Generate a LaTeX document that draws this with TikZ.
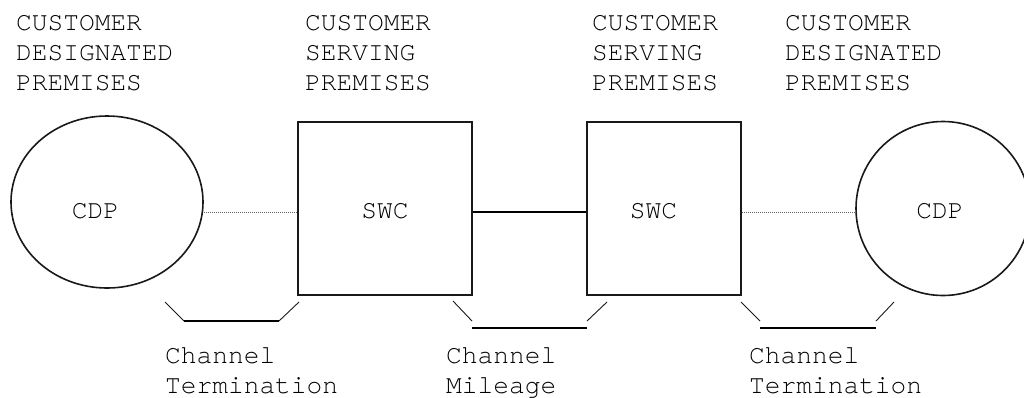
\documentclass[tikz,border=0pt]{standalone}
\usepackage{fontspec}
\setmonofont{TeX Gyre Cursor}
\usetikzlibrary{shapes.geometric}
\tikzset{
  lbl/.style={inner sep=0pt, anchor=base west, align=left, font=\ttfamily\fontsize{26.2}{30}\selectfont, text=black},
  inlbl/.style={inner sep=0pt, anchor=base, font=\ttfamily\fontsize{26.2}{30}\selectfont, text=black},
  shp/.style={draw=black!90, line width=1.6pt, inner sep=0pt},
  dotline/.style={draw=black!60, line width=1pt, densely dotted},
  solidline/.style={draw=black, line width=1.8pt},
  thinstroke/.style={draw=black!90, line width=0.9pt},
  thickstroke/.style={draw=black, line width=2.4pt}
}
\begin{document}
\begin{tikzpicture}[x=1pt,y=-1pt]
\useasboundingbox (0,0) rectangle (1024,397);
% shapes
\node[shp, ellipse, minimum width=192pt, minimum height=172pt] (cdpL) at (107,202) {};
\node[shp, rectangle, minimum width=174pt, minimum height=173pt] (swcL) at (385,208.5) {};
\node[shp, rectangle, minimum width=154pt, minimum height=173pt] (swcR) at (664,208.5) {};
\node[shp, circle, minimum size=174pt] (cdpR) at (943,208.5) {};
% inner labels
\node[inlbl] (tCdpL) at (95.5,218) {CDP};
\node[inlbl] (tSwcL) at (385,218) {SWC};
\node[inlbl] (tSwcR) at (653.5,218) {SWC};
\node[inlbl] (tCdpR) at (940,218) {CDP};
% connectors
\draw[dotline] ([yshift=-3.5pt]swcL.west) -- ([yshift=-3.5pt]swcL.west -| cdpL.east);
\draw[solidline] ([yshift=-3.5pt]swcL.east) -- ([yshift=-3.5pt]swcR.west);
\draw[dotline] ([yshift=-3.5pt]swcR.east) -- ([yshift=-3.5pt]swcR.east -| cdpR.west);
% brackets
\draw[thinstroke] (165,302) -- (184,321);
\draw[thickstroke] (184,321) -- (279,321);
\draw[thinstroke] (279,321) -- (299,302);
\draw[thinstroke] (453,301) -- (472,321);
\draw[thickstroke] (472,328) -- (587,328);
\draw[thinstroke] (587,321) -- (607,302);
\draw[thinstroke] (741,302) -- (760,321);
\draw[thickstroke] (760,328) -- (876,328);
\draw[thinstroke] (876,321) -- (894,302);
% top labels (base anchor = last line baseline)
\node[lbl] (h1) at (16,90) {CUSTOMER\\DESIGNATED\\PREMISES};
\node[lbl] (h2) at (305,90) {CUSTOMER\\SERVING\\PREMISES};
\node[lbl] (h3) at (592,90) {CUSTOMER\\SERVING\\PREMISES};
\node[lbl] (h4) at (785,90) {CUSTOMER\\DESIGNATED\\PREMISES};
% bottom labels
\node[lbl] (b1) at (165,393) {Channel\\Termination};
\node[lbl] (b2) at (446,393) {Channel\\Mileage};
\node[lbl] (b3) at (749,393) {Channel\\Termination};
\end{tikzpicture}
\end{document}
